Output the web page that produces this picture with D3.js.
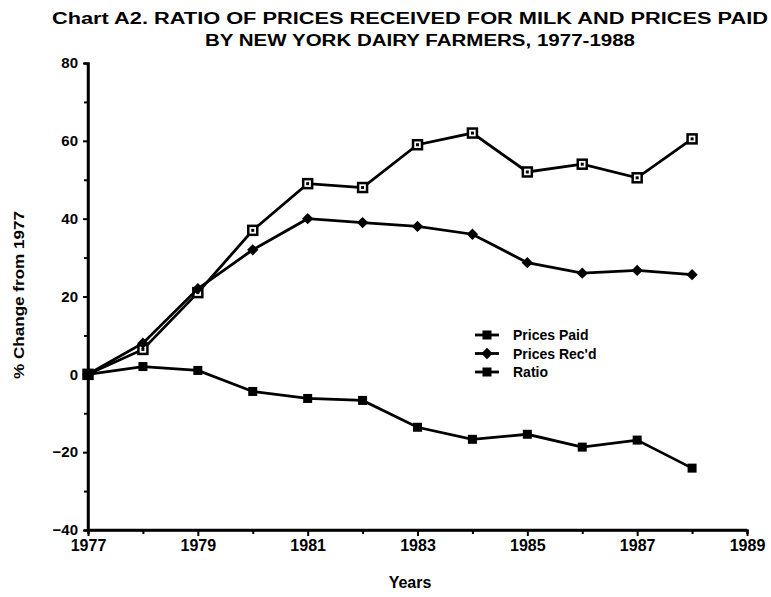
<!DOCTYPE html>
<html>
<head>
<meta charset="UTF-8" />
<title>Chart A2</title>
<script src="https://d3js.org/d3.v7.min.js"></script>
<style>
  body { margin: 0; background: #fff; }
  text { font-family: "Liberation Sans", Arial, sans-serif; font-weight: bold; fill: #000; }
</style>
</head>
<body>
<svg id="chart" width="771" height="597"></svg>
<script>
// values (% change from 1977)
var years = [1977, 1978, 1979, 1980, 1981, 1982, 1983, 1984, 1985, 1986, 1987, 1988];
var pricesPaid = [0, 6.4, 21, 37, 49, 48, 59, 62, 52, 54, 50.5, 60.5];
var pricesRecd = [0, 8, 22, 32, 40, 39, 38, 36, 28.7, 26, 26.7, 25.6];
var ratio = [0, 2, 1, -4.4, -6.2, -6.7, -13.6, -16.7, -15.4, -18.7, -16.9, -24.1];
var xTicks = [1977, 1979, 1981, 1983, 1985, 1987, 1989];
var yTicks = [-40, -20, 0, 20, 40, 60, 80];

var svg = d3.select('#chart');

var x = d3.scaleLinear().domain([1977, 1989]).range([88, 747]);
var y = d3.scaleLinear().domain([-40, 80]).range([530, 63]);

// title
svg.append('text').attr('x', 410).attr('y', 24).attr('text-anchor', 'middle')
    .style('font-size', '16px')
    .attr('textLength', 716).attr('lengthAdjust', 'spacingAndGlyphs')
    .text('Chart A2. RATIO OF PRICES RECEIVED FOR MILK AND PRICES PAID');
svg.append('text').attr('x', 420).attr('y', 46).attr('text-anchor', 'middle')
    .style('font-size', '16px')
    .attr('textLength', 430).attr('lengthAdjust', 'spacingAndGlyphs')
    .text('BY NEW YORK DAIRY FARMERS, 1977-1988');

// y axis
var yAxis = d3.axisLeft(y).tickValues(yTicks).tickSize(5).tickPadding(5).tickFormat(d3.format('d'));
var gy = svg.append('g').attr('transform', 'translate(' + x(1977) + ',0)').call(yAxis);
gy.selectAll('text').style('font-size', '15px');
var yMinor = d3.axisLeft(y).tickValues(d3.range(-30, 80, 20)).tickSize(4).tickFormat('');
svg.append('g').attr('transform', 'translate(' + x(1977) + ',0)').call(yMinor);

// x axis
var xAxis = d3.axisBottom(x).tickValues(xTicks).tickSize(6).tickPadding(4).tickFormat(d3.format('d'));
var gx = svg.append('g').attr('transform', 'translate(0,' + y(-40) + ')').call(xAxis);
gx.selectAll('text').style('font-size', '16px');
var xMinor = d3.axisBottom(x).tickValues(d3.range(1978, 1989, 2)).tickSize(4).tickFormat('');
svg.append('g').attr('transform', 'translate(0,' + y(-40) + ')').call(xMinor);

svg.selectAll('.domain').attr('stroke', '#000').attr('stroke-width', 2.5);
svg.selectAll('.tick line').attr('stroke', '#000').attr('stroke-width', 2);
// plain axis lines without end caps
gy.select('.domain').attr('d', 'M0,' + y(80) + 'V' + y(-40));
gx.select('.domain').attr('d', 'M' + x(1977) + ',0H' + x(1989));

// axis titles
svg.append('text').attr('x', 410).attr('y', 588).attr('text-anchor', 'middle')
    .style('font-size', '16px').text('Years');
svg.append('text').attr('transform', 'translate(24,295) rotate(-90)').attr('text-anchor', 'middle')
    .style('font-size', '15px')
    .attr('textLength', 168).attr('lengthAdjust', 'spacingAndGlyphs')
    .text('% Change from 1977');

// series
var line = d3.line().x(function (d) { return x(d[0]); }).y(function (d) { return y(d[1]); });
var series = [
  { name: 'Prices Paid', values: pricesPaid, marker: 'openSquare' },
  { name: "Prices Rec'd", values: pricesRecd, marker: 'diamond' },
  { name: 'Ratio', values: ratio, marker: 'square' }
];

function drawMarker(g, type, cx, cy) {
  if (type === 'diamond') {
    g.append('rect').attr('x', -4).attr('y', -4).attr('width', 8).attr('height', 8)
      .attr('transform', 'translate(' + cx + ',' + cy + ') rotate(45)').attr('fill', '#000');
  } else if (type === 'openSquare') {
    g.append('rect').attr('x', cx - 4.5).attr('y', cy - 4.5).attr('width', 9).attr('height', 9)
      .attr('fill', '#fff').attr('stroke', '#000').attr('stroke-width', 2.5);
    g.append('rect').attr('x', cx - 1.5).attr('y', cy - 1.5).attr('width', 3).attr('height', 3).attr('fill', '#000');
  } else {
    g.append('rect').attr('x', cx - 4.5).attr('y', cy - 4.5).attr('width', 9).attr('height', 9)
      .attr('fill', '#000');
  }
}

series.forEach(function (s) {
  var pts = years.map(function (yr, i) { return [yr, s.values[i]]; });
  svg.append('path').datum(pts).attr('d', line)
    .attr('fill', 'none').attr('stroke', '#000').attr('stroke-width', 2.8);
  var g = svg.append('g');
  pts.forEach(function (p) { drawMarker(g, s.marker, x(p[0]), y(p[1])); });
});

// legend
var legend = svg.append('g').attr('transform', 'translate(475,335)');
series.forEach(function (s, i) {
  var row = legend.append('g').attr('transform', 'translate(0,' + i * 18.5 + ')');
  row.append('line').attr('x1', 0).attr('x2', 24).attr('stroke', '#000').attr('stroke-width', 2.8);
  drawMarker(row, s.marker === 'openSquare' ? 'square' : s.marker, 12, 0);
  row.append('text').attr('x', 38).attr('y', 5).style('font-size', '14px').text(s.name);
});
</script>
</body>
</html>
